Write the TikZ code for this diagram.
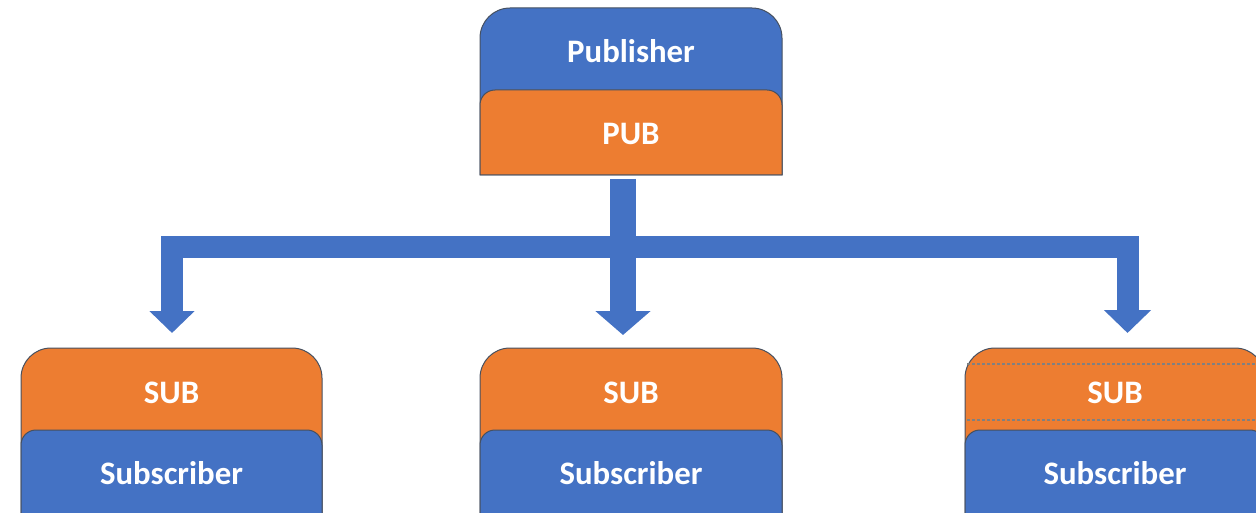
\documentclass[tikz,border=0pt]{standalone}
\usepackage{fontspec}
\setmainfont{Carlito}
\usetikzlibrary{arrows.meta}

\definecolor{pubblue}{RGB}{68,114,196}
\definecolor{suborange}{RGB}{237,125,49}
\definecolor{frameline}{RGB}{70,80,96}
\definecolor{dotgrey}{RGB}{128,128,128}

% box with rounded top corners and a square bottom
% #1 style, #2 left x, #3 right x, #4 top y, #5 bottom y, #6 radius
\newcommand{\toprounded}[6]{%
  \path[#1] (#2,#5) -- (#2,#4-#6)
    arc[start angle=180,end angle=90,radius=#6pt] -- (#3-#6,#4)
    arc[start angle=90,end angle=0,radius=#6pt] -- (#3,#5) -- cycle;}

\tikzset{
  bluepart/.style={fill=pubblue,draw=frameline,line width=1pt},
  orangepart/.style={fill=suborange,draw=frameline,line width=1pt},
  label/.style={text=white,font=\bfseries\fontsize{32.8}{39}\selectfont,
    inner sep=0pt,anchor=base},
  flow/.style={draw=pubblue,line join=miter},
  splitline/.style={draw=dotgrey,line width=2.6pt,dash pattern=on 2.6pt off 2.4pt},
}

\begin{document}
\begin{tikzpicture}[x=1pt,y=1pt]
\useasboundingbox (0,0) rectangle (1256,-513);
\clip (0,0) rectangle (1256,-513);

% publisher block
\toprounded{bluepart}{480}{782}{-8}{-175}{30}
\toprounded{orangepart}{480}{782}{-90}{-175}{15}
\node[label] (pubname) at (631,-63) {Publisher};
\node[label] (pubport) at (631,-145) {PUB};

% subscriber blocks
\foreach \i/\xl/\xr in {1/21/322, 2/480/782, 3/965/1265}{
  \toprounded{orangepart}{\xl}{\xr}{-348}{-540}{30}
  \toprounded{bluepart}{\xl}{\xr}{-430}{-540}{15}
}
\draw[splitline] (967,-364) -- (1256,-364);
\draw[splitline] (967,-420) -- (1256,-420);

\node[label] (subport1) at (171.5,-403) {SUB};
\node[label] (subname1) at (171.5,-484) {Subscriber};
\node[label] (subport2) at (631,-403) {SUB};
\node[label] (subname2) at (631,-484) {Subscriber};
\node[label] (subport3) at (1115,-403) {SUB};
\node[label] (subname3) at (1115,-484) {Subscriber};

% distribution arrows
\coordinate (fork) at (623,-179);
\coordinate (in1) at (172,-333);
\coordinate (in2) at (623,-335);
\coordinate (in3) at (1127.5,-333);
\coordinate (bar) at (623,-247);

\draw[flow,line width=22pt,
  {Triangle[width=44pt,length=22pt]}-{Triangle[width=46pt,length=23pt]}]
  (in1) |- (bar) -| (in3);
\draw[flow,line width=26pt,-{Triangle[width=54pt,length=24pt]}]
  (fork) -- (in2);
\end{tikzpicture}
\end{document}
